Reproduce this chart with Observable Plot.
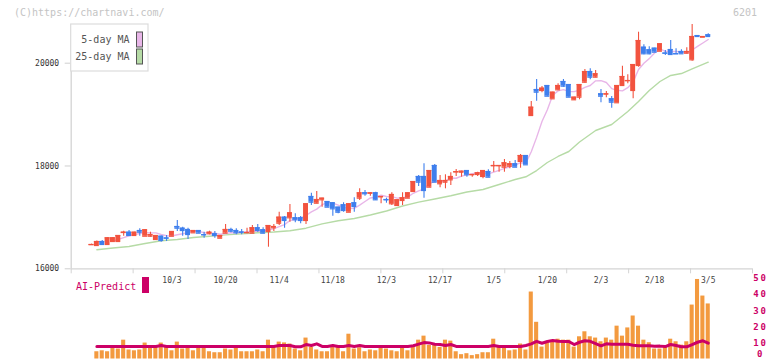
<!DOCTYPE html>
<html><head><meta charset="utf-8">
<script src="https://cdn.jsdelivr.net/npm/d3@7"></script>
<script src="https://cdn.jsdelivr.net/npm/@observablehq/plot@0.6"></script>
<style>
body{margin:0;background:#fff;}
#wrap{position:relative;width:772px;height:361px;overflow:hidden;font-family:"DejaVu Sans Mono",monospace;}
#wrap svg{position:absolute;left:0;top:0;}
</style></head><body><div id="wrap"></div>
<script>
// ---- data ----
const openP = [16470,16453,16531,16473,16531,16531,16706,16712,16648,16745,16634,16634,16570,16634,16600,16634,16823,16790,16765,16700,16745,16665,16681,16681,16595,16693,16765,16745,16715,16703,16693,16798,16759,16726,16798,16887,17004,16992,16992,16992,16940,17407,17276,17342,17309,17284,17199,17245,17101,17284,17374,17478,17470,17478,17400,17348,17265,17232,17329,17374,17504,17796,17796,17588,18010,17654,17685,17731,17885,17879,17912,17830,17835,17796,17893,18005,18005,17977,17996,18043,18088,18204,18982,19488,19469,19566,19307,19482,19644,19585,19288,19339,19630,19838,19728,19404,19400,19307,19230,19566,19660,19469,19955,20311,20260,20292,20233,20197,20266,20185,20228,20195,20066,20538,20506,20552];
const highP = [16480,16540,16551,16603,16610,16650,16732,16745,16712,16778,16765,16712,16648,16640,16648,16726,16940,16809,16790,16745,16745,16712,16732,16726,16648,16862,16790,16778,16765,16790,16842,16862,16798,16842,16862,17101,17017,17251,17070,17017,17265,17471,17504,17374,17309,17284,17199,17284,17265,17381,17556,17523,17478,17491,17407,17374,17478,17342,17478,17478,17700,17815,18043,17912,18029,17815,17829,17868,17932,17899,17912,17835,17879,17912,17926,18088,18010,18126,18088,18107,18224,18204,19255,19683,19547,19566,19436,19599,19683,19585,19339,19585,19877,19891,19858,19488,19449,19352,19566,19942,19774,19974,20603,20358,20318,20292,20377,20247,20441,20280,20260,20300,20753,20538,20519,20571];
const lowP = [16465,16440,16453,16473,16531,16520,16634,16634,16648,16634,16634,16615,16570,16518,16531,16634,16726,16634,16570,16700,16693,16595,16661,16595,16595,16693,16700,16661,16661,16681,16693,16712,16681,16420,16726,16842,16790,16907,16895,16875,16862,17232,17265,17199,17199,17023,17070,17101,17101,17101,17329,17413,17413,17329,17265,17276,17232,17232,17232,17374,17500,17601,17374,17588,17685,17576,17556,17621,17796,17782,17782,17782,17796,17751,17782,17879,17879,17879,17945,17977,17957,18023,18969,19261,19424,19358,19307,19469,19533,19339,19274,19288,19611,19677,19716,19229,19327,19124,19230,19553,19599,19307,19922,20163,20163,20214,20233,20150,20150,20169,20183,20183,20039,20519,20506,20519];
const closeP = [16473,16531,16473,16603,16603,16648,16712,16648,16712,16712,16759,16667,16648,16551,16595,16726,16790,16745,16667,16745,16693,16661,16712,16648,16648,16765,16732,16700,16712,16706,16798,16745,16693,16842,16823,17004,16940,17089,16953,16940,17265,17296,17348,17374,17199,17167,17101,17134,17265,17212,17478,17459,17478,17342,17407,17342,17446,17342,17381,17478,17698,17685,17523,17912,17685,17718,17718,17796,17890,17899,17829,17835,17868,17912,17782,18010,18010,18062,18043,17977,18204,18023,19144,19436,19514,19358,19436,19566,19553,19339,19339,19585,19838,19728,19794,19358,19404,19241,19566,19741,19663,19974,20441,20183,20183,20214,20377,20194,20169,20183,20183,20228,20519,20519,20519,20519];
const ma25Idx = [1,4,7,10,13,16,19,22,25,28,31,34,37,40,43,46,49,52,55,58,61,64,67,70,73,76,79,81,83,85,87,89,91,94,97,100,102,104,106,108,110,112,115];
const ma25Val = [16370,16405,16434,16492,16545,16570,16609,16634,16661,16681,16700,16716,16739,16790,16875,16934,16979,17047,17124,17222,17296,17358,17422,17494,17543,17640,17737,17790,17912,18068,18185,18282,18467,18691,18807,19060,19255,19469,19644,19761,19799,19891,20019];
const predBar = [4.5,5.1,4.5,7,6.2,11.7,5.6,5.1,5.6,9.9, 7.2,7,9.9,7.2,5.1,10.5,6.2,7.2,5.1,7.2, 7.2,4.5,3.9,3.9,6.2,5.6,7.2,4.5,4.5,4.5, 5.6,4.5,11.7,7.2,10.5,10,9.3,6.2,5.1,13, 7.2,5.6,4.5,4.5,7.2,7.2,4.5,15.4,6.2,7, 4.5,5.6,5.1,7.2,6.2,5.1,4.5,7.2,5.1,8.4, 11.7,14.2,8.4,8.4,7.2,11.7,11.1,4.5,2.7,3.3, 2.1,2.7,3.9,3.9,12.3,7.2,7.2,5.1,5.6,9.3, 5.6,41.6,22.8,7.4,10.6,10.5,12.3,11.7,11.7,7.4, 13.8,16.9,13.8,13,10.7,13,11.7,20.4,14.2,19.3, 26.7,20.4,11.7,10.1,6.2,6.2,7.6,12.3,10.7,8.6, 10.7,33.5,49.4,39.1,34.2];
const predLine = [7.8,7.8,7.8,7.8,7.8,7.8,7.8,7.8,7.8,7.8,7.8,7.8, 8.4, 7.8,7.8,7.8,7.8,7.8,7.8,7.8,7.8,7.8,7.8,7.8,7.8,7.8,7.8,7.8,7.8,7.8,7.8,7.8,7.8,7.8, 8.4,8.4,8.4,7.6,7.6,9.0,8.4,9.4,7.8,7.8,8.4,7.8,7.8,8.4,7.8,8.4, 7.8,7.8,7.8,7.8,7.8,7.8,7.8,7.8,7.8, 8.2,9.2,10.2,10.0,9.2,9.0,8.4,9.0, 7.8,7.8,7.8,7.8,7.8,7.8,7.8, 8.4, 7.8,7.8,7.8,7.8,7.8, 8.4,9.4,11.0,9.8,10.9,11.5,11.0,10.9,10.9,9.0, 10.4,11.3,11.0,9.6,8.2,9.4,9.2,9.2,9.2,9.2, 8.6,8.2,8.2,8.2,7.9,8.0,7.7,9.0,8.4,7.6, 7.6,9.0,10.4,11.3,9.8];
const labelIdx = [15,25,35,45,55,65,75,85,95,105,115];
const labelText = ["10/3","10/20","11/4","11/18","12/3","12/17","1/5","1/20","2/3","2/18","3/5"];
const yTicks = [16000,18000,20000];
const rightTicks = [0,10,20,30,40,50];
const legendLabels = ["5-day MA","25-day MA"];
const codeText = "6201";
const creditText = "(C)https://chartnavi.com/";
const panelLabel = "AI-Predict";

// ---- styles / layout ----
const RED="#f2533f", BLUE="#3f7fed", PINK="#e8b6e8", GREEN="#b6dba6", ORANGE="#f39a3f", MAG="#cc0066";
const W=772, H=361, L=70.7, R=20;
const x0px=91, stepPx=5.363;
const xDomain=[(L-x0px)/stepPx, (W-R-x0px)/stepPx];
const yTopPx=24, yBotPx=268.3, yPerPx=19.455;
const yDomain=[16000, 16000+(yBotPx-yTopPx)*yPerPx];
const FONT='"DejaVu Sans Mono", monospace';

const candles = openP.map((o,j)=>({j,o,h:highP[j],l:lowP[j],c:closeP[j]}));
const up = candles.filter(d=>d.c>=d.o), dn = candles.filter(d=>d.c<d.o);
const ma25 = ma25Idx.map((j,k)=>({j, v:ma25Val[k]}));
const bars = predBar.map((v,i)=>({j:i+1, v}));
const pline = predLine.map((v,i)=>({j:i+1, v}));
const hw=0.46;
const gridTicks = d3.range(12).map(k=>xDomain[0]+k*(xDomain[1]-xDomain[0])/11);

function candleMarks(data, color){
  return [
    Plot.ruleX(data,{x:"j",y1:"l",y2:"h",stroke:color,strokeWidth:1.1}),
    Plot.rect(data,{x1:d=>d.j-hw,x2:d=>d.j+hw,y1:"o",y2:"c",fill:color}),
    Plot.ruleY(data,{y:"c",x1:d=>d.j-hw,x2:d=>d.j+hw,stroke:color,strokeWidth:1.2}),
    Plot.ruleY(data,{y:"o",x1:d=>d.j-hw,x2:d=>d.j+hw,stroke:color,strokeWidth:1.2})
  ];
}

const main = Plot.plot({
  width:W, height:H, marginLeft:L, marginRight:R, marginTop:yTopPx, marginBottom:H-yBotPx,
  x:{domain:xDomain, label:null}, y:{domain:yDomain, label:null},
  style:{background:"transparent", fontFamily:FONT, overflow:"visible"},
  marks:[
    Plot.ruleY([yDomain[0]],{stroke:"#d4d4d4",strokeWidth:1.3}),
    Plot.ruleX([xDomain[0]],{stroke:"#d4d4d4",strokeWidth:1.3}),
    Plot.axisY({ticks:yTicks, tickSize:6, tickPadding:6, fontSize:8, tickFormat:d=>String(d), stroke:"#cfcfcf", fill:"#333", label:null}),
    Plot.axisX({ticks:gridTicks, tickSize:5, tickFormat:()=>"", stroke:"#d4d4d4", label:null}),
    Plot.axisX({ticks:labelIdx, tickSize:0, tickPadding:9, fontSize:8, fill:"#444", tickFormat:d=>labelText[labelIdx.indexOf(d)], label:null}),
    Plot.line(ma25,{x:"j",y:"v",stroke:GREEN,strokeWidth:1.4}),
    Plot.lineY(candles, Plot.windowY({k:5, anchor:"end", reduce:"mean", strict:true},{x:"j",y:"c",stroke:PINK,strokeWidth:1.4})),
    ...candleMarks(up,RED),
    ...candleMarks(dn,BLUE)
  ]
});

const sub = Plot.plot({
  width:W, height:H, marginLeft:L, marginRight:R, marginTop:278, marginBottom:H-358.5,
  x:{domain:xDomain, axis:null, label:null}, y:{domain:[0,50], label:null},
  style:{background:"transparent", fontFamily:FONT, overflow:"visible"},
  marks:[
    Plot.rect(bars,{x1:d=>d.j-0.38,x2:d=>d.j+0.38,y1:0,y2:"v",fill:ORANGE}),
    Plot.line(pline,{x:"j",y:"v",stroke:MAG,strokeWidth:3}),
    Plot.axisY({anchor:"right", ticks:rightTicks, tickSize:0, tickPadding:8, textAnchor:"middle", fontSize:9, fontWeight:"bold", fill:MAG, label:null})
  ]
});

const wrap = document.getElementById("wrap");
wrap.appendChild(main);
wrap.appendChild(sub);

d3.select(sub).selectAll('g[aria-label="y-axis tick label"] text')
  .attr("letter-spacing","1.8")
  .each(function(){ if (this.textContent.trim()==="0") d3.select(this).attr("y", -2.5); });

const s = d3.select(main);
const deco = s.append("g").attr("font-family",FONT).attr("text-anchor","start");
deco.append("text").attr("x",14).attr("y",12).attr("dy","0.35em").attr("text-anchor","start").attr("font-size",10).attr("fill","#c4c4c4").text(creditText);
deco.append("text").attr("x",757).attr("y",12).attr("dy","0.35em").attr("text-anchor","end").attr("font-size",10).attr("fill","#c4c4c4").text(codeText);
deco.append("rect").attr("x",L).attr("y",24).attr("width",77.3).attr("height",47).attr("fill","#fff").attr("stroke","#dcdcdc").attr("stroke-width",1.2);
const legColors=[PINK,GREEN];
legendLabels.forEach((t,k)=>{
  const cy = 39.5 + k*17;
  deco.append("text").attr("x",129.5).attr("y",cy).attr("dy","0.35em").attr("text-anchor","end").attr("font-size",10).attr("fill","#555").text(t);
  deco.append("rect").attr("x",136.5).attr("y",cy-7.5).attr("width",6).attr("height",15).attr("fill",legColors[k]).attr("stroke","#555").attr("stroke-width",1);
});
deco.append("text").attr("x",76).attr("y",286).attr("dy","0.35em").attr("text-anchor","start").attr("font-size",10).attr("fill",MAG).text(panelLabel);
deco.append("rect").attr("x",142).attr("y",277).attr("width",7).attr("height",16).attr("fill",MAG);
</script>
</body></html>
